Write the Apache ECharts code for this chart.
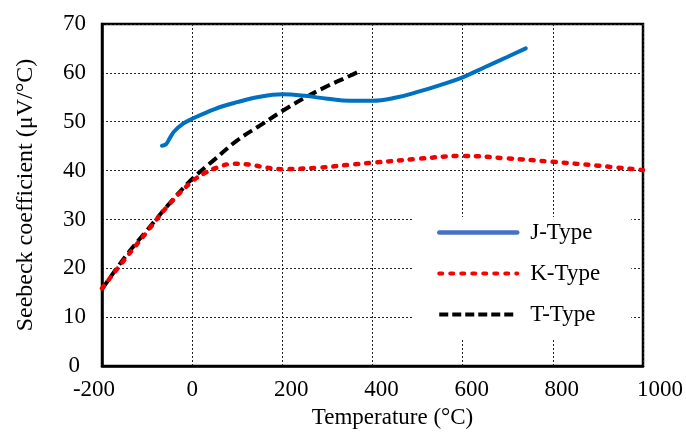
<!DOCTYPE html>
<html>

<head>
    <title>Seebeck coefficient</title>
    <meta charset="utf-8">
    <script type="text/javascript" src="https://cdn.jsdelivr.net/npm/echarts@6/dist/echarts.min.js"></script>
    <style>
    html, body {
        margin: 0;
        padding: 0;
        background: #fff;
    }

    .main {
        width: 686px;
        height: 434px;
    }
    </style>
</head>

<body>
    <div id="main" class="main"></div>
    <script type="text/javascript">
    // values
    const tempJ = [-67, -58, -50, -40, -20, 0, 50, 100, 150, 200, 250, 300, 350, 400, 450, 500, 550, 600, 650, 700, 740];
    const seebeckJ = [45.1, 45.4, 46.6, 48.0, 49.6, 50.6, 52.6, 54.0, 55.1, 55.6, 55.3, 54.7, 54.3, 54.3, 54.9, 56.1, 57.5, 59.1, 61.2, 63.3, 65.0];

    const tempK = [-200, -150, -100, -50, 0, 30, 55, 90, 130, 165, 200, 280, 350, 400, 500, 600, 700, 800, 900, 1000];
    const seebeckK = [15.9, 21.8, 27.5, 33.2, 37.8, 39.6, 40.6, 41.4, 41.2, 40.6, 40.3, 40.6, 41.2, 41.6, 42.4, 43.0, 42.5, 41.8, 41.0, 40.1];

    const tempT = [-200, -150, -100, -50, 0, 50, 100, 150, 200, 250, 300, 350, 370];
    const seebeckT = [15.7, 22.2, 27.8, 33.3, 38.3, 42.3, 46.2, 49.2, 52.2, 54.9, 57.3, 59.4, 60.3];

    const seriesNames = ['J-Type', 'K-Type', 'T-Type'];

    function pairs(xs, ys) {
        return xs.map(function(x, i) {
            return [x, ys[i]];
        });
    }

    const font = '"Liberation Serif", "Times New Roman", serif';

    const myChart = echarts.init(document.getElementById('main'));
    const option = {
        backgroundColor: '#fff',
        animation: false,
        grid: {
            left: 102,
            right: 43,
            top: 24,
            bottom: 66,
            show: true,
            borderColor: '#000',
            borderWidth: 2.5
        },
        legend: {
            orient: 'vertical',
            left: 413,
            top: 217,
            padding: [4, 31, 12, 24],
            backgroundColor: '#fff',
            itemWidth: 78,
            itemHeight: 14,
            itemGap: 18,
            itemStyle: { opacity: 0 },
            textStyle: {
                fontFamily: font,
                fontSize: 23,
                color: '#000',
                padding: [0, 0, 0, 8]
            },
            data: [{
                name: 'J-Type',
                lineStyle: { color: '#4472C4', width: 4.5, cap: 'round' }
            }, {
                name: 'K-Type',
                lineStyle: { color: '#FF0000', width: 4, type: [3, 8], cap: 'round' }
            }, {
                name: 'T-Type',
                lineStyle: { color: '#000', width: 4, type: [9, 4] }
            }]
        },
        xAxis: {
            type: 'value',
            min: -200,
            max: 1000,
            interval: 200,
            name: 'Temperature (°C)',
            nameLocation: 'middle',
            nameGap: 38,
            nameTextStyle: {
                fontFamily: font,
                fontSize: 23,
                color: '#000',
                padding: [0, 0, 0, 40]
            },
            axisLine: { show: true, onZero: false, lineStyle: { color: '#000', width: 2.5 } },
            axisTick: { show: false },
            splitLine: { show: true, lineStyle: { color: '#222', type: [2, 2], width: 1 } },
            axisLabel: {
                margin: 12,
                formatter: function(v) {
                    if (v === 0) return '{z|0}';
                    if (v < 0) return '{n|' + v + '}';
                    if (v >= 1000) return '{f|' + v + '}';
                    return '{t|' + v + '}';
                },
                rich: {
                    z: { fontFamily: font, fontSize: 23, color: '#000' },
                    n: { fontFamily: font, fontSize: 23, color: '#000', padding: [0, 16, 0, 0] },
                    t: { fontFamily: font, fontSize: 23, color: '#000', padding: [0, 0, 0, 18] },
                    f: { fontFamily: font, fontSize: 23, color: '#000', padding: [0, 0, 0, 34] }
                }
            }
        },
        yAxis: {
            type: 'value',
            min: 0,
            max: 70,
            interval: 10,
            name: 'Seebeck coefficient (μV/°C)',
            nameLocation: 'middle',
            nameRotate: 90,
            nameGap: 64,
            nameTextStyle: {
                fontFamily: font,
                fontSize: 24,
                color: '#000'
            },
            axisLine: { show: true, onZero: false, lineStyle: { color: '#000', width: 2.5 } },
            axisTick: { show: false },
            splitLine: { show: true, lineStyle: { color: '#222', type: [2, 2], width: 1 } },
            axisLabel: {
                margin: 16,
                formatter: function(v) {
                    return v === 0 ? '{z|0}' : '{a|' + v + '}';
                },
                rich: {
                    a: { fontFamily: font, fontSize: 23, color: '#000' },
                    z: { fontFamily: font, fontSize: 23, color: '#000', padding: [0, 6, 0, 0] }
                }
            }
        },
        series: [{
            name: seriesNames[0],
            type: 'line',
            smooth: 0.4,
            symbol: 'none',
            z: 3,
            lineStyle: { color: '#0070C0', width: 4, cap: 'round' },
            itemStyle: { color: '#0070C0' },
            data: pairs(tempJ, seebeckJ)
        }, {
            name: seriesNames[1],
            type: 'line',
            smooth: 0.4,
            symbol: 'none',
            z: 4,
            lineStyle: { color: '#F00000', width: 4.5, type: [3, 8], cap: 'round' },
            itemStyle: { color: '#F00000' },
            data: pairs(tempK, seebeckK)
        }, {
            name: seriesNames[2],
            type: 'line',
            smooth: 0.4,
            symbol: 'none',
            z: 2,
            lineStyle: { color: '#000', width: 4, type: [10, 5] },
            itemStyle: { color: '#000' },
            data: pairs(tempT, seebeckT)
        }]
    };
    myChart.setOption(option);
    </script>
</body>

</html>
